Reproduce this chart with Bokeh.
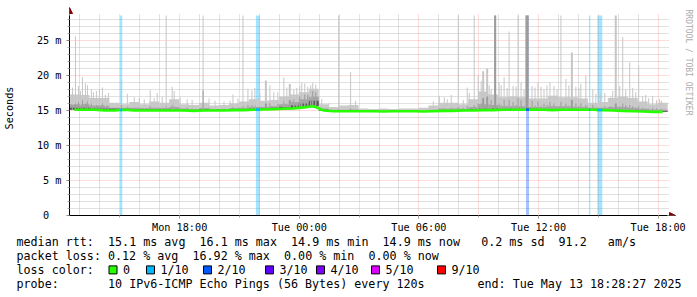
import re
import numpy as np
from datetime import datetime, timezone, timedelta
from bokeh.plotting import figure
from bokeh.layouts import column
from bokeh.models import (FixedTicker, Grid, Arrow, NormalHead, Range1d, DatetimeTickFormatter)
from bokeh.core.properties import value
from bokeh.embed import file_html
from bokeh.resources import INLINE

# ---------------- data ----------------
UTC = timezone.utc
start_time = datetime(2025, 5, 12, 12, 28, 27, tzinfo=UTC)
span_hours = 30
bin_hours = 0.5
y_top_ms = 28.57          # upper limit of the value axis

# median RTT per 30-minute bin (ms)
median_ms = [15.1, 15.1, 15.1, 15.0, 15.0, 15.1, 15.0, 15.0, 15.0, 15.0,
             15.0, 15.0, 14.95, 15.0, 15.0, 15.0, 15.05, 15.05, 15.1, 15.15,
             15.2, 15.25, 15.3, 15.45, 15.6, 15.0, 14.9, 14.9, 14.9, 14.9,
             14.9, 14.85, 14.9, 14.9, 14.9, 14.85, 14.9, 14.95, 14.95, 15.0,
             15.0, 15.05, 15.05, 15.1, 15.1, 15.1, 15.15, 15.1, 15.05, 15.1,
             15.1, 15.1, 15.1, 15.05, 15.0, 14.95, 14.9, 14.85, 14.8, 14.8]
# upper edge of the outer (lightest) smoke band per bin (ms)
smoke_max_ms = [17.3, 17.2, 16.8, 16.8, 16.1, 15.9, 16.2, 15.9, 16.3, 16.1,
                16.6, 15.9, 15.8, 16.1, 15.7, 15.8, 16.0, 16.3, 16.6, 16.4,
                16.5, 17.0, 17.3, 17.6, 18.1, 15.9, 15.5, 15.7, 15.8, 15.3,
                15.2, 15.3, 15.2, 15.3, 15.3, 15.4, 15.7, 16.1, 16.1, 15.9,
                16.6, 17.7, 17.3, 16.9, 17.0, 16.9, 16.7, 16.7, 17.1, 16.9,
                16.9, 16.7, 16.1, 16.2, 16.8, 17.0, 16.8, 16.3, 15.9, 16.1]
# upper edge of the middle smoke band per bin (ms)
smoke_mid_ms = [15.9, 15.9, 15.7, 15.7, 15.4, 15.35, 15.4, 15.35, 15.4, 15.35,
                15.5, 15.3, 15.2, 15.35, 15.2, 15.2, 15.35, 15.4, 15.5, 15.5,
                15.6, 15.9, 16.2, 16.6, 17.0, 15.3, 15.1, 15.1, 15.15, 15.05,
                15.0, 15.0, 15.0, 15.05, 15.05, 15.0, 15.1, 15.3, 15.3, 15.25,
                15.5, 15.9, 15.8, 15.6, 15.6, 15.6, 15.5, 15.5, 15.6, 15.6,
                15.55, 15.5, 15.4, 15.4, 15.5, 15.5, 15.4, 15.25, 15.15, 15.15]
# upper edge of the dark core smoke per bin (ms)
smoke_core_ms = [15.4, 15.4, 15.3, 15.3, 15.25, 15.25, 15.15, 15.15, 15.15, 15.15,
                 15.15, 15.1, 15.05, 15.15, 15.1, 15.1, 15.15, 15.2, 15.25, 15.3,
                 15.4, 15.5, 15.7, 16.0, 16.4, 15.1, 14.95, 14.95, 14.95, 14.95,
                 14.95, 14.9, 14.95, 14.95, 14.95, 14.9, 14.95, 15.05, 15.05, 15.1,
                 15.2, 15.3, 15.3, 15.25, 15.25, 15.25, 15.25, 15.2, 15.15, 15.2,
                 15.2, 15.2, 15.15, 15.15, 15.1, 15.05, 15.0, 14.95, 14.9, 14.9]

# single-step smoke spikes: hours after start, top of light band, top of mid band, duration
spike_hours = [0.30, 0.45, 0.65, 0.90, 1.10, 1.35, 1.65, 1.95, 2.60, 2.90,
               3.50, 4.05, 4.40, 4.65, 4.85, 5.15, 5.25, 5.90, 6.70, 7.00,
               7.75, 8.05, 8.20, 8.70, 8.95, 9.15, 9.30, 9.85, 10.05, 10.45,
               10.75, 11.05, 11.25, 11.55, 11.80, 11.95, 12.20, 12.35, 12.65, 13.00,
               13.50, 14.10, 14.35, 18.55, 18.80, 19.15, 19.50, 19.75, 19.95, 20.30,
               20.50, 20.75, 20.95, 21.15, 21.35, 21.55, 21.80, 22.05, 22.25, 22.50,
               22.65, 22.95, 23.20, 23.50, 23.80, 24.10, 24.30, 24.65, 24.90, 25.20,
               25.40, 25.65, 25.90, 26.25, 26.85, 27.15, 27.40, 27.75, 27.90, 28.10,
               28.25, 28.55, 28.75, 29.05, 29.25, 29.45, 29.70,
               0.15, 0.55, 0.80, 1.20, 1.50, 1.80, 3.25, 3.75, 4.25, 5.55,
               6.15, 7.30, 8.45, 9.55, 10.25, 10.90, 11.40, 11.65, 12.10, 18.25,
               18.95, 20.05, 20.65, 21.05, 21.65, 21.95, 22.40, 22.80, 23.35, 23.65,
               23.95, 24.45, 25.05, 25.55, 26.40, 26.65, 27.25, 27.60, 28.40, 28.90,
               29.60]
spike_top_ms = [25.6, 18.5, 19.8, 18.6, 18.0, 17.8, 18.3, 17.5, 19.3, 17.4,
                16.8, 17.9, 17.5, 17.0, 28.57, 18.4, 17.8, 16.6, 28.57, 16.7,
                16.3, 16.4, 17.3, 28.57, 18.1, 17.9, 18.2, 19.3, 18.6, 17.6,
                19.7, 18.8, 18.0, 18.5, 18.9, 18.4, 19.0, 18.7, 16.6, 16.0,
                28.57, 20.5, 16.4, 17.1, 16.9, 17.2, 28.57, 16.5, 18.3, 28.57,
                20.0, 20.6, 21.0, 18.0, 28.57, 19.0, 19.7, 26.3, 18.5, 28.57,
                19.0, 28.57, 18.5, 19.0, 18.0, 19.0, 18.5, 28.57, 19.5, 23.3,
                18.4, 18.8, 20.0, 18.0, 17.5, 17.0, 28.57, 25.5, 18.0, 21.9,
                18.2, 21.4, 17.0, 16.8, 17.1, 16.5, 16.4,
                18.3, 17.8, 18.9, 17.6, 18.0, 17.2, 16.9, 16.6, 16.8, 16.9,
                16.5, 16.4, 16.7, 17.5, 17.6, 18.3, 18.2, 19.0, 18.6, 16.3,
                16.6, 17.5, 19.2, 18.6, 18.6, 18.2, 18.4, 18.0, 18.3, 18.4,
                18.6, 18.0, 18.6, 18.2, 17.4, 17.5, 17.8, 18.5, 17.6, 17.2,
                16.6]
spike_mid_ms = [16.0, 16.2, 16.5, 16.3, 16.0, 15.8, 16.0, 15.6, 15.8, 15.5,
                15.4, 15.6, 15.4, 15.4, 15.6, 15.8, 15.6, 15.4, 17.9, 15.4,
                15.3, 15.3, 15.5, 15.6, 15.8, 15.8, 15.7, 16.0, 16.0, 15.9,
                16.3, 16.5, 16.6, 17.0, 17.3, 17.2, 17.8, 17.6, 15.4, 15.2,
                15.2, 15.3, 15.1, 15.3, 15.3, 15.4, 15.5, 15.4, 15.6, 15.8,
                16.0, 16.8, 17.0, 16.5, 28.57, 16.0, 16.5, 16.5, 16.2, 16.8,
                16.5, 28.57, 16.4, 16.3, 16.0, 16.2, 16.0, 16.2, 16.0, 16.5,
                16.0, 16.0, 15.8, 15.8, 15.6, 15.6, 16.0, 16.0, 15.8, 15.8,
                15.6, 15.6, 15.4, 15.3, 15.4, 15.3, 15.2,
                15.8, 15.7, 16.0, 15.6, 15.7, 15.5, 15.4, 15.3, 15.4, 15.4,
                15.3, 15.2, 15.4, 15.6, 15.6, 16.0, 16.2, 16.6, 16.8, 15.1,
                15.2, 15.4, 16.0, 15.9, 15.8, 15.7, 15.8, 15.6, 15.7, 15.7,
                15.8, 15.6, 15.7, 15.6, 15.4, 15.4, 15.5, 15.6, 15.4, 15.3,
                15.1]
spike_minutes = [3, 3, 3, 3, 3, 3, 3, 3, 3, 3,
                 3, 3, 3, 3, 3, 3, 3, 3, 3, 3,
                 3, 3, 3, 3, 3, 3, 3, 6, 3, 3,
                 3, 6, 3, 3, 3, 3, 3, 3, 3, 3,
                 3, 3, 3, 3, 3, 3, 3, 3, 3, 3,
                 3, 6, 6, 3, 6, 3, 3, 3, 3, 3,
                 3, 9, 3, 3, 3, 3, 3, 3, 3, 6,
                 3, 3, 3, 3, 3, 3, 6, 3, 3, 3,
                 3, 3, 3, 3, 3, 3, 3,
                 3, 3, 3, 3, 3, 3, 3, 3, 3, 3,
                 3, 3, 3, 3, 3, 3, 3, 3, 3, 3,
                 3, 3, 3, 3, 3, 3, 3, 3, 3, 3,
                 3, 3, 3, 3, 3, 3, 3, 3, 3, 3,
                 3]

# packet-loss events: hours after start, duration in minutes, lost pings of 10
loss_hours = [2.59, 9.45, 22.975, 26.09, 26.6]
loss_minutes = [7, 12, 9, 4, 15]
loss_count = [1, 1, 2, 1, 1]

loss_levels = [0, 1, 2, 3, 4, 5, 9]
loss_labels = ["0", "1/10", "2/10", "3/10", "4/10", "5/10", "9/10"]
loss_colors = ["#26ff00", "#00b8ff", "#0059ff", "#5e00ff", "#7e00ff", "#dd00ff", "#ff0000"]

x_tick_times = [datetime(2025, 5, 12, 18, 0, tzinfo=UTC), datetime(2025, 5, 13, 0, 0, tzinfo=UTC),
                datetime(2025, 5, 13, 6, 0, tzinfo=UTC), datetime(2025, 5, 13, 12, 0, tzinfo=UTC),
                datetime(2025, 5, 13, 18, 0, tzinfo=UTC)]
x_tick_labels = ["Mon 18:00", "Tue 00:00", "Tue 06:00", "Tue 12:00", "Tue 18:00"]
y_ticks = [0, 5, 10, 15, 20, 25]
y_tick_labels = ["0\u00a0\u00a0", "5 m", "10 m", "15 m", "20 m", "25 m"]

legend_rows = [
    "median rtt:  15.1 ms avg  16.1 ms max  14.9 ms min  14.9 ms now   0.2 ms sd  91.2   am/s",
    "packet loss: 0.12 % avg  16.92 % max  0.00 % min  0.00 % now",
    "loss color:",
    "probe:       10 IPv6-ICMP Echo Pings (56 Bytes) every 120s",
]
end_text = "end: Tue May 13 18:28:27 2025"
watermark = "RRDTOOL / TOBI OETIKER"

# ---------------- layout constants ----------------
W = 697
MAIN_H = 235
LEG_H = 297 - MAIN_H
FL, FB = 67, 20                 # left / bottom borders; frame runs to the top and right edges
PLOT_PX = 600                   # pixels used by the 30 h of data
PX_PER_MS = 7.0                 # vertical scale
MONO = "DejaVu Sans Mono"
ADV = 7.04
LEG_SIZE = "11.7px"
AX_SIZE = "10.2px"

start_ms = start_time.timestamp() * 1000.0
def t_ms(h):
    return start_ms + h * 3600000.0

px_ms = span_hours * 3600000.0 / PLOT_PX            # ms of time per pixel
frame_w = W - FL
frame_h = MAIN_H - FB
x_end = t_ms(0) + frame_w * px_ms
y_end = frame_h / PX_PER_MS

n = len(median_ms)
edges = [t_ms(i * bin_hours) for i in range(n + 1)]
centers = np.array([t_ms((i + 0.5) * bin_hours) for i in range(n)])

def stepped(vals):
    xs, ys = [], []
    for i, v in enumerate(vals):
        xs += [edges[i], edges[i + 1]]
        ys += [v, v]
    return xs, ys

p = figure(width=W, height=MAIN_H, output_backend="svg", toolbar_location=None,
           x_axis_type="datetime",
           x_range=Range1d(t_ms(0), x_end), y_range=Range1d(0, y_end),
           min_border_left=FL, min_border_right=0, min_border_top=0, min_border_bottom=FB,
           background_fill_color="white", border_fill_color="white", outline_line_color=None)
p.frame_align = False

# grids (limited to the data area)
p.xgrid.visible = False
p.ygrid.visible = False
hours = []
h = datetime(2025, 5, 12, 13, 0, tzinfo=UTC)
while h <= datetime(2025, 5, 13, 18, 0, tzinfo=UTC):
    hours.append(h)
    h += timedelta(hours=1)
red_x = [d.timestamp() * 1000 for d in hours if d.hour % 3 == 0]
gray_x = [d.timestamp() * 1000 for d in hours if d.hour % 3 != 0]
red_y = [v for v in range(0, 29) if v % 5 == 0]
gray_y = [v for v in range(0, 29) if v % 5 != 0]
grid_style = dict(grid_line_color="#ff0000", grid_line_alpha=0.28, grid_line_dash="1 1",
                  minor_grid_line_color="#c2c2c2", minor_grid_line_dash="1 1")
p.add_layout(Grid(dimension=0, ticker=FixedTicker(ticks=red_x, minor_ticks=gray_x),
                  cross_bounds=(0, y_top_ms + 2 / PX_PER_MS), **grid_style))
p.add_layout(Grid(dimension=1, ticker=FixedTicker(ticks=red_y, minor_ticks=gray_y),
                  cross_bounds=(t_ms(0), t_ms(span_hours) + 2 * px_ms), **grid_style))

# loss background bars
level_color = dict(zip(loss_levels, loss_colors))
loss_x = [t_ms(v) for v in loss_hours]
loss_w = [m * 60000.0 for m in loss_minutes]
p.vbar(x=loss_x, width=loss_w, bottom=0, top=y_top_ms,
       fill_color=[level_color[c] for c in loss_count], fill_alpha=0.36, line_color=None)

# smoke bands
sx, base = stepped(median_ms)
_, hi = stepped(smoke_max_ms)
_, mid = stepped(smoke_mid_ms)
_, core = stepped(smoke_core_ms)
p.varea(x=sx, y1=base, y2=hi, fill_color="#cacaca")
p.varea(x=sx, y1=base, y2=mid, fill_color="#a4a4a4")
p.varea(x=sx, y1=base, y2=core, fill_color="#5a5a5a")

sp_x = [t_ms(v) for v in spike_hours]
sp_w = [m * 60000.0 for m in spike_minutes]
sp_base = np.interp(sp_x, centers, median_ms)
p.vbar(x=sp_x, width=sp_w, bottom=sp_base, top=spike_top_ms, fill_color="#c6c6c6", line_color=None)
p.vbar(x=sp_x, width=sp_w, bottom=sp_base, top=spike_mid_ms, fill_color="#9c9c9c", line_color=None)

# median line, coloured by loss
p.line(x=centers, y=median_ms, line_color="#26ff00", line_width=2.6)
loss_med = np.interp(loss_x, centers, median_ms)
p.segment(x0=[x - w / 2 for x, w in zip(loss_x, loss_w)], x1=[x + w / 2 for x, w in zip(loss_x, loss_w)],
          y0=loss_med, y1=loss_med, line_color=[level_color[c] for c in loss_count], line_width=2.6)

# axes
xa = p.xaxis[0]
xa.ticker = FixedTicker(ticks=[d.timestamp() * 1000 for d in x_tick_times], minor_ticks=red_x)
xa.formatter = DatetimeTickFormatter(hours="%a %H:%M", hourmin="%a %H:%M", days="%a %H:%M",
                                     minutes="%a %H:%M", minsec="%a %H:%M")
xa.major_label_overrides = {d.timestamp() * 1000: lab for d, lab in zip(x_tick_times, x_tick_labels)}
xa.bounds = (t_ms(0), t_ms(span_hours))
ya = p.yaxis[0]
ya.ticker = FixedTicker(ticks=y_ticks, minor_ticks=gray_y)
ya.major_label_overrides = dict(zip(y_ticks, y_tick_labels))
ya.bounds = (0, y_top_ms)
ya.axis_label = "Seconds"
ya.axis_label_text_font = MONO
ya.axis_label_text_font_size = AX_SIZE
ya.axis_label_text_font_style = "normal"
ya.axis_label_text_color = "black"
ya.axis_label_standoff = 19
for ax in (xa, ya):
    ax.major_label_text_font = MONO
    ax.major_label_text_font_size = AX_SIZE
    ax.major_label_text_color = "black"
    ax.axis_line_color = "black"
    ax.major_tick_line_color = "#888888"
    ax.minor_tick_line_color = "#aaaaaa"
    ax.major_tick_in = 0
    ax.minor_tick_in = 0
    ax.major_tick_out = 3
    ax.minor_tick_out = 2
xa.major_label_standoff = 3
ya.major_label_standoff = 5

# axis arrows
p.add_layout(Arrow(x_start=t_ms(0), y_start=y_top_ms, x_end=t_ms(0), y_end=y_top_ms + 8 / PX_PER_MS,
                   line_color="black", line_width=1,
                   end=NormalHead(size=6, fill_color="#8b0000", line_color="#8b0000")))
p.add_layout(Arrow(x_start=t_ms(span_hours), y_start=0, x_end=t_ms(span_hours) + 8 * px_ms, y_end=0,
                   line_color="black", line_width=1,
                   end=NormalHead(size=6, fill_color="#8b0000", line_color="#8b0000")))

# watermark, reading downwards beside the graph
p.text(x=[t_ms(span_hours) + 20.5 * px_ms], y=[(frame_h - 9) / PX_PER_MS], text=[watermark],
       angle=-np.pi / 2, text_font=value(MONO), text_font_size=value("8px"),
       text_color="#ababab", text_align="left", text_baseline="middle")

# ---------------- legend strip ----------------
lg = figure(width=W, height=LEG_H, output_backend="svg", toolbar_location=None,
            x_range=Range1d(0, W), y_range=Range1d(LEG_H, 0),
            x_axis_location=None, y_axis_location=None,
            min_border_left=0, min_border_right=0, min_border_top=0, min_border_bottom=0,
            background_fill_color="white", border_fill_color="white", outline_line_color=None)
lg.frame_align = False
lg.xgrid.visible = False
lg.ygrid.visible = False

row_y = [241.0 - MAIN_H, 255.2 - MAIN_H, 269.4 - MAIN_H, 283.6 - MAIN_H]
tx, ty, tt = [], [], []
for row, cy in zip(legend_rows, row_y):
    for m in re.finditer(r"\S+(?: \S+)*", row):
        tx.append(16 + m.start() * ADV)
        ty.append(cy)
        tt.append(m.group())
tx.append(477.0)
ty.append(row_y[3])
tt.append(end_text)

box_left = [108.5, 146.0, 203.0, 265.0, 316.0, 371.0, 437.0]
for bx, lab in zip(box_left, loss_labels):
    tx.append(bx + 14)
    ty.append(row_y[2])
    tt.append(lab)

lg.text(x=tx, y=ty, text=tt, text_font=value(MONO), text_font_size=value(LEG_SIZE),
        text_color="black", text_align="left", text_baseline="middle")
lg.rect(x=[b + 4 for b in box_left], y=[row_y[2]] * len(box_left), width=8, height=8,
        fill_color=loss_colors, line_color="black", line_width=1)

layout = column(p, lg, spacing=0)
open("out.html", "w").write(file_html(layout, INLINE))
